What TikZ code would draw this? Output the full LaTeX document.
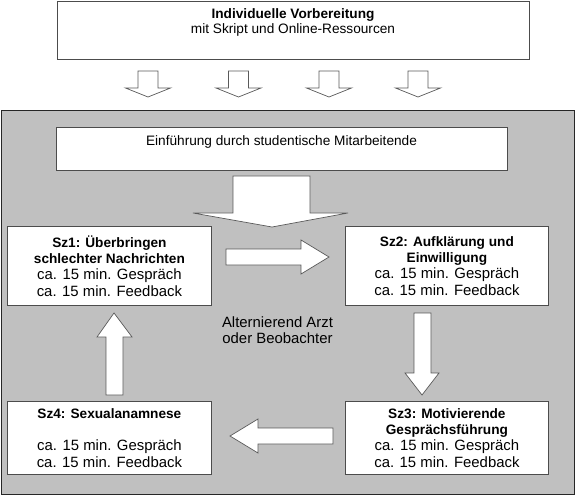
\documentclass[tikz,border=0pt]{standalone}
\usepackage{fontspec}
\setmainfont{Liberation Sans}
\definecolor{graybg}{RGB}{192,192,192}
\newcommand{\ttlfont}{\fontsize{13.65bp}{16.3bp}\selectfont\bfseries}
\newcommand{\regfont}{\fontsize{14.9bp}{16.3bp}\selectfont\mdseries}
\begin{document}
\begin{tikzpicture}[x=1bp,y=-1bp,
  box/.style={draw=black!70, line width=0.8bp, fill=white, inner sep=0pt, anchor=north west, align=center},
  barrow/.style={draw=black!65, line width=0.7bp, fill=white, line join=miter},
  small/.style={font=\fontsize{13.65bp}{15bp}\selectfont},
  large/.style={font=\fontsize{14.9bp}{16.3bp}\selectfont},
]
\useasboundingbox (0,0) rectangle (575,495);
% frame
\node[draw=black!85, line width=1.2bp, fill=graybg, minimum width=573bp, minimum height=384bp, anchor=north west, inner sep=0pt] (frame) at (1,110) {};
% top box
\node[box, minimum width=472bp, minimum height=58bp] (top) at (57,1) {};
\node[small, align=center] (toptxt) at (293,22.5) {\bfseries Individuelle Vorbereitung\\\mdseries mit Skript und Online-Ressourcen};
% small arrows
\foreach \cx in {148,238.5,329,418} {
  \draw[barrow] (\cx-10,71) -- (\cx+10,71) -- (\cx+10,88) -- (\cx+22.5,88) -- (\cx,97) -- (\cx-22.5,88) -- (\cx-10,88) -- cycle;
}
% Einfuehrung
\node[box, minimum width=451bp, minimum height=43bp] (einf) at (56,127) {};
\node[small] (einftxt) at (281.5,142) {Einführung durch studentische Mitarbeitende};
% big arrow
\draw[barrow] (233,176) -- (310,176) -- (310,213) -- (348,213) -- (272,227) -- (193,213) -- (233,213) -- cycle;
% Sz boxes
\node[box, large, minimum width=204bp, minimum height=79bp] (sz1) at (7,226)
  {\ttlfont Sz1: Überbringen\\\ttlfont schlechter Nachrichten\\\regfont ca. 15 min. Gespräch\\\regfont ca. 15 min. Feedback};
\node[box, large, minimum width=203bp, minimum height=79bp] (sz2) at (345,226)
  {\ttlfont Sz2: Aufklärung und\\\ttlfont Einwilligung\\\regfont ca. 15 min. Gespräch\\\regfont ca. 15 min. Feedback};
\node[box, large, minimum width=203bp, minimum height=73bp] (sz3) at (345,401)
  {\ttlfont Sz3: Motivierende\\\ttlfont Gesprächsführung\\\regfont ca. 15 min. Gespräch\\\regfont ca. 15 min. Feedback};
\node[box, large, minimum width=204bp, minimum height=73bp] (sz4) at (7,401)
  {\ttlfont Sz4: Sexualanamnese\\\mbox{}\\\regfont ca. 15 min. Gespräch\\\regfont ca. 15 min. Feedback};
% center text
\node[large, align=center] (alt) at (277.5,330) {Alternierend Arzt\\oder Beobachter};
% block arrows
\draw[barrow] (226,249) -- (301,249) -- (301,240) -- (329,257) -- (301,274) -- (301,265) -- (226,265) -- cycle;
\draw[barrow] (414,313) -- (431,313) -- (431,373) -- (439,373) -- (422,395) -- (405,373) -- (414,373) -- cycle;
\draw[barrow] (333,428) -- (258,428) -- (258,419) -- (230,436) -- (258,453) -- (258,444) -- (333,444) -- cycle;
\draw[barrow] (106,395) -- (106,337) -- (97,337) -- (114,313) -- (132,337) -- (123,337) -- (123,395) -- cycle;
\end{tikzpicture}
\end{document}
